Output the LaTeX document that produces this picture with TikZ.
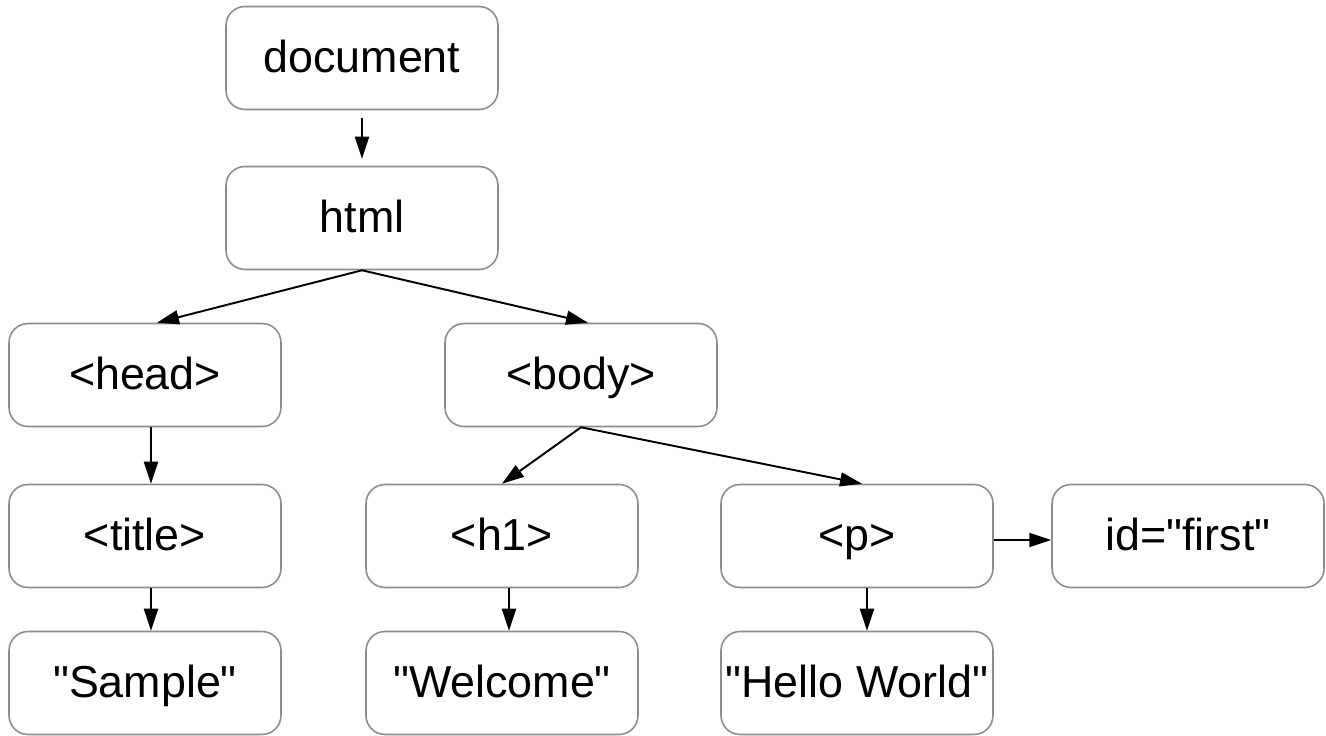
\documentclass[tikz,border=0pt]{standalone}
\usepackage{fontspec}
\setmainfont{Liberation Sans}
\usetikzlibrary{arrows.meta,positioning}

\begin{document}
\begin{tikzpicture}[x=0.02cm, y=-0.02cm, >={Triangle[length=0.44cm, width=0.28cm]},
    tag/.style={rectangle, rounded corners=0.38cm, draw=black!45, line width=0.9pt,
        minimum width=5.44cm, minimum height=2.06cm, inner xsep=1pt,
        text height=20pt, text depth=4pt,
        font=\fontsize{25.5}{30}\selectfont},
    link/.style={->, line width=1.1pt}]
    \useasboundingbox (0,0) rectangle (1326,736);

    % Root and html
    \node[tag] (doc) at (362,58) {document};
    \node[tag] (html) at (362,218) {html};

    % Head and body
    \node[tag] (head) at (145,375) {<head>};
    \node[tag] (body) at (581,375) {<body>};

    % Elements
    \node[tag] (title) at (145,536) {<title>};
    \node[tag] (h1) at (502,536) {<h1>};
    \node[tag] (p) at (857,536) {<p>};
    \node[tag] (idattr) at (1188,536) {id=\textquotedbl first\textquotedbl};

    % Text nodes
    \node[tag] (sample) at (145,683) {\textquotedbl Sample\textquotedbl};
    \node[tag] (welcome) at (502,683) {\textquotedbl Welcome\textquotedbl};
    \node[tag] (hello) at (857,683) {\textquotedbl Hello World\textquotedbl};

    % Arrows
    \draw[link, shorten <=0.16cm, shorten >=0.14cm] (doc) -- (html);
    \draw[link] (html.south) -- ([xshift=0.24cm]head.north);
    \draw[link] (html.south) -- ([xshift=0.14cm]body.north);
    \draw[link] ([xshift=0.12cm]head.south) -- ([xshift=0.12cm]title.north);
    \draw[link] ([xshift=0.12cm]title.south) -- ([xshift=0.12cm]sample.north);
    \draw[link] (body.south) -- (h1.north);
    \draw[link] (body.south) -- ([xshift=0.1cm]p.north);
    \draw[link] ([xshift=0.14cm]h1.south) -- ([xshift=0.14cm]welcome.north);
    \draw[link] ([xshift=0.2cm]p.south) -- ([xshift=0.2cm]hello.north);
    \draw[link] ([yshift=-0.08cm]p.east) -- ([yshift=-0.08cm]idattr.west);
\end{tikzpicture}
\end{document}
